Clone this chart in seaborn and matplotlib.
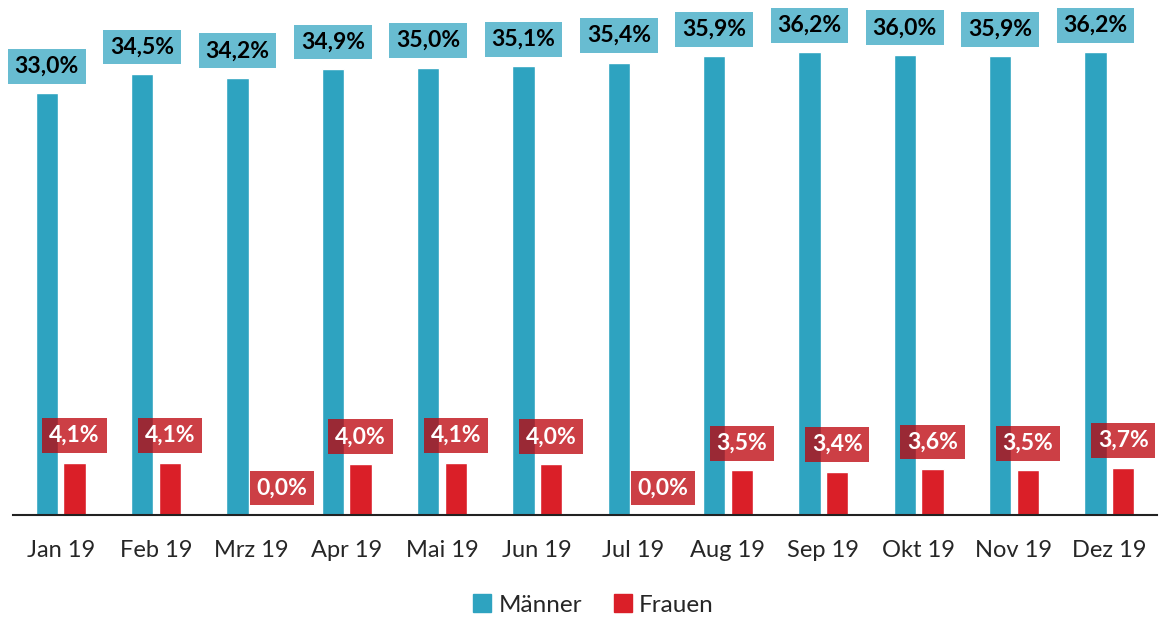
import pandas as pd
import matplotlib
matplotlib.use("Agg")
import matplotlib.pyplot as plt
import seaborn as sns

months = ["Jan 19", "Feb 19", "Mrz 19", "Apr 19", "Mai 19", "Jun 19",
          "Jul 19", "Aug 19", "Sep 19", "Okt 19", "Nov 19", "Dez 19"]
maenner = [33.0, 34.5, 34.2, 34.9, 35.0, 35.1, 35.4, 35.9, 36.2, 36.0, 35.9, 36.2]
frauen = [4.1, 4.1, 0.0, 4.0, 4.1, 4.0, 0.0, 3.5, 3.4, 3.6, 3.5, 3.7]
series = ["Männer", "Frauen"]
colors = {"Männer": "#2ea3c0", "Frauen": "#da1f28"}

df = pd.DataFrame({
    "Monat": months * 2,
    "Anteil": maenner + frauen,
    "Gruppe": [series[0]] * len(months) + [series[1]] * len(months),
})

sns.set_style("white")
plt.rcParams["font.family"] = ["Lato", "DejaVu Sans"]

fig = plt.figure(figsize=(11.59, 6.19), dpi=100)
ax = fig.add_axes([13 / 1159, 104 / 619, 1144 / 1159, 515 / 619])

sns.barplot(data=df, x="Monat", y="Anteil", hue="Gruppe", palette=colors,
            width=0.58, gap=0.2, ax=ax, legend=False, saturation=1)

ax.set_ylim(0, 40.3)
ax.set_xlim(-0.5, len(months) - 0.5)
ax.set_xlabel("")
ax.set_ylabel("")
ax.set_yticks([])
for s in ["top", "left", "right"]:
    ax.spines[s].set_visible(False)
ax.spines["bottom"].set_color("#222222")
ax.spines["bottom"].set_linewidth(1.5)
ax.tick_params(axis="x", length=0, pad=18, labelsize=17)

# value labels with boxes
styles = [
    dict(color="black", bbox=dict(boxstyle="square,pad=0.3", fc=colors["Männer"], ec="none", alpha=0.72)),
    dict(color="white", bbox=dict(boxstyle="square,pad=0.3", fc="#bd030a", ec="none", alpha=0.76)),
]
for cont, st in zip(ax.containers, styles):
    for bar in cont:
        h = bar.get_height()
        xc = bar.get_x() + bar.get_width() / 2
        dx = 12 if h == 0 else 0
        ax.annotate(f"{h:.1f}%".replace(".", ","), (xc, h), xytext=(dx, 19.5),
                    textcoords="offset points", ha="center", va="center",
                    fontsize=16.5, fontweight="bold", annotation_clip=False, **st)

handles = [plt.Rectangle((0, 0), 1, 1, color=colors[s]) for s in series]
fig.legend(handles, series, loc="center", bbox_to_anchor=(0.512, 14 / 619), ncol=2,
           frameon=False, fontsize=17.5, handlelength=0.75, handleheight=0.75,
           handletextpad=0.3, columnspacing=1.3)

fig.savefig("out.png", dpi=100)
